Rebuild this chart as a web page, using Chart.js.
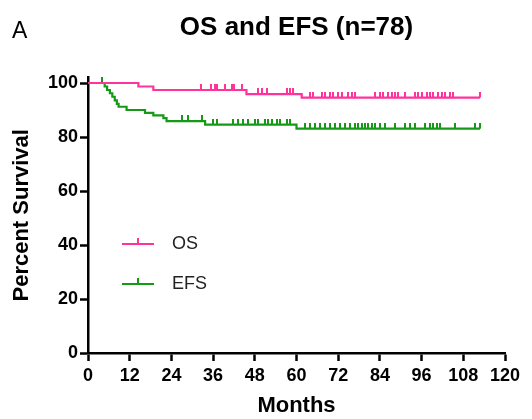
<!DOCTYPE html>
<html><head><meta charset="utf-8">
<script src="https://cdn.jsdelivr.net/npm/chart.js@4.4.0/dist/chart.umd.min.js"></script>
<style>
html,body{margin:0;padding:0;background:#fff;}
#wrap{position:relative;width:532px;height:419px;}
#panel{position:absolute;left:12px;top:18.5px;font:23px/1 'Liberation Sans',Arial,sans-serif;color:#000;}
canvas{position:absolute;left:0;top:0;}
</style></head><body>
<div id="wrap"><canvas id="c" width="532" height="419"></canvas><div id="panel">A</div></div>
<script>
const chartTitle = 'OS and EFS (n=78)';
const xTitle = 'Months';
const yTitle = 'Percent Survival';
const seriesNames = ['OS', 'EFS'];
const seriesColors = ['#FF3399', '#159A15'];
const xTicks = [0, 12, 24, 36, 48, 60, 72, 84, 96, 108, 120];
const yTicks = [0, 20, 40, 60, 80, 100];

const osStepMonths   = [0, 14.5, 18.8, 45.6, 61.5];
const osStepSurvival = [100, 98.7, 97.4, 95.9, 94.6];
const osCensorMonths = [32.5, 35.5, 36.5, 37.2, 39.4, 41.3, 42.0, 44.2, 48.9, 50.0, 51.5, 57.3, 58.1, 59.0,
  63.9, 64.8, 67.2, 68.2, 69.6, 70.6, 72.0, 73.0, 74.9, 75.9, 76.9, 82.6, 84.0, 85.0, 86.4, 87.4, 88.3, 89.3,
  91.2, 94.1, 95.1, 96.0, 97.5, 98.4, 99.4, 100.8, 101.8, 102.7, 104.2, 105.1, 112.8];

const efsStepMonths   = [0, 4.8, 5.5, 6.3, 7.0, 7.7, 8.3, 8.8, 11.1, 16.4, 18.8, 21.7, 22.6, 33.7, 60.0];
const efsStepSurvival = [100, 98.7, 97.4, 96.2, 94.9, 93.6, 92.3, 91.2, 90.0, 88.9, 88.0, 87.0, 85.9, 84.6, 83.1];
const efsCensorMonths = [4.1, 27.0, 28.9, 32.7, 36.0, 37.0, 41.8, 43.2, 44.6, 46.0, 48.1, 48.9, 50.9, 51.8, 52.9,
  54.3, 55.3, 57.2, 58.1, 62.4, 63.9, 65.3, 66.8, 68.2, 69.6, 71.1, 72.5, 74.0, 75.4, 76.8, 77.8, 78.8, 79.7,
  80.7, 81.6, 82.6, 84.0, 85.5, 88.3, 91.2, 92.7, 94.1, 97.0, 98.4, 99.4, 100.3, 101.3, 105.6, 111.4, 112.8];

const followUpEnd = 112.8;
const FONT = "'Liberation Sans', Arial, Helvetica, sans-serif";

function stepPoints(times, surv) {
  const pts = times.map((t, i) => ({x: t, y: surv[i]}));
  pts.push({x: followUpEnd, y: surv[surv.length - 1]});
  return pts;
}
function survAt(times, surv, t) {
  let v = surv[0];
  for (let i = 0; i < times.length; i++) if (times[i] <= t) v = surv[i];
  return v;
}
function censorPoints(cm, times, surv) {
  return cm.map(t => ({x: t, y: survAt(times, surv, t)}));
}
function tickImg(color) {
  const c = document.createElement('canvas'); c.width = 2; c.height = 12;
  const g = c.getContext('2d'); g.fillStyle = color; g.fillRect(0, 0, 2, 6); return c;
}
function legendImg(color) {
  const c = document.createElement('canvas'); c.width = 32; c.height = 12;
  const g = c.getContext('2d'); g.fillStyle = color; g.fillRect(0, 5, 32, 2); g.fillRect(15, 0, 2, 6); return c;
}
const legendIcons = seriesColors.map(legendImg);

const legendPlacer = {
  id: 'legendPlacer',
  beforeDraw(chart) {
    const l = chart.legend;
    if (!l) return;
    l.left = 91; l.top = 213; l.right = l.left + l.width; l.bottom = 419;
  }
};

const axisCommon = {
  grid: {drawOnChartArea: false, drawTicks: true, tickLength: 8, tickWidth: 2.5, tickColor: '#000'},
  border: {display: true, color: '#000', width: 2.5}
};

new Chart(document.getElementById('c'), {
  type: 'line',
  data: {
    datasets: [
      {label: seriesNames[0], data: stepPoints(osStepMonths, osStepSurvival), borderColor: seriesColors[0],
       borderWidth: 2.2, stepped: true, pointRadius: 0, fill: false, clip: false},
      {label: seriesNames[1], data: stepPoints(efsStepMonths, efsStepSurvival), borderColor: seriesColors[1],
       borderWidth: 2.2, stepped: true, pointRadius: 0, fill: false, clip: false},
      {label: 'OS censored', data: censorPoints(osCensorMonths, osStepMonths, osStepSurvival), showLine: false,
       pointStyle: tickImg(seriesColors[0]), pointRadius: 3, pointHoverRadius: 3, clip: false},
      {label: 'EFS censored', data: censorPoints(efsCensorMonths, efsStepMonths, efsStepSurvival), showLine: false,
       pointStyle: tickImg(seriesColors[1]), pointRadius: 3, pointHoverRadius: 3, clip: false}
    ]
  },
  options: {
    responsive: false, animation: false, devicePixelRatio: 1, events: [],
    layout: {padding: {top: 0, right: 27, bottom: 0, left: 0}},
    plugins: {
      tooltip: {enabled: false},
      title: {display: true, text: chartTitle, fullSize: false, color: '#000',
        font: {family: FONT, size: 26, weight: 'bold'}, padding: {top: 12, bottom: 34.4}},
      legend: {
        display: true, position: 'chartArea', align: 'start',
        labels: {
          usePointStyle: true, pointStyleWidth: 50, padding: 22, color: '#222',
          font: {family: FONT, size: 18},
          generateLabels: () => seriesNames.map((n, i) => ({
            text: n, pointStyle: legendIcons[i], fillStyle: seriesColors[i], strokeStyle: seriesColors[i],
            lineWidth: 0, hidden: false, datasetIndex: i, fontColor: '#222'
          }))
        }
      }
    },
    scales: {
      x: Object.assign({
        type: 'linear', min: 0, max: 120,
        afterBuildTicks: s => { s.ticks = xTicks.map(v => ({value: v})); },
        afterFit: s => { s.height = 66; },
        ticks: {color: '#000', font: {family: FONT, size: 18, weight: 'bold'}, padding: 4, maxRotation: 0, autoSkip: false},
        title: {display: true, text: xTitle, color: '#000', font: {family: FONT, size: 22, weight: 'bold'}, padding: {top: 0, bottom: 0}}
      }, axisCommon),
      y: Object.assign({
        type: 'linear', min: 0, max: 102,
        afterBuildTicks: s => { s.ticks = yTicks.map(v => ({value: v})); },
        afterFit: s => { s.width = 88; },
        ticks: {color: '#000', font: {family: FONT, size: 18, weight: 'bold'}, padding: 2},
        title: {display: true, text: yTitle, color: '#000', font: {family: FONT, size: 22, weight: 'bold'}, padding: {top: 9, bottom: 0}}
      }, axisCommon)
    }
  },
  plugins: [legendPlacer]
});
</script>
</body></html>
